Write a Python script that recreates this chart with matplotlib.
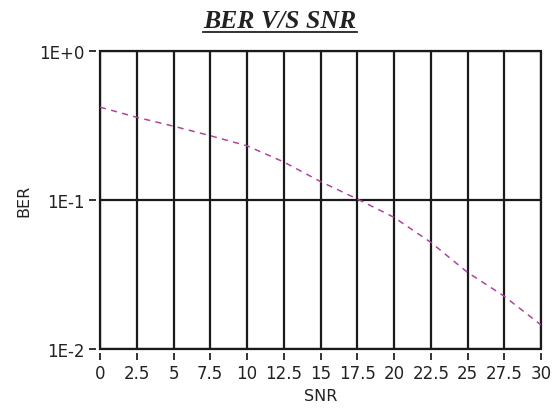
import matplotlib
matplotlib.use("Agg")
import matplotlib.pyplot as plt
from matplotlib.lines import Line2D

snr = [0, 2.5, 5, 7.5, 10, 12.5, 15, 17.5, 20, 22.5, 25, 27.5, 30]
ber = [0.42, 0.359, 0.313, 0.270, 0.231, 0.180, 0.133, 0.1016, 0.0765, 0.052, 0.0327, 0.0226, 0.0145]
xticks = [0, 2.5, 5, 7.5, 10, 12.5, 15, 17.5, 20, 22.5, 25, 27.5, 30]
xticklabels = ["0", "2.5", "5", "7.5", "10", "12.5", "15", "17.5", "20", "22.5", "25", "27.5", "30"]
yticks = [1e-2, 1e-1, 1e0]
yticklabels = ["1E-2", "1E-1", "1E+0"]

plt.rcParams['font.family'] = ['DejaVu Sans']
fig = plt.figure(figsize=(5.52, 4.10), dpi=100)
W, H = 552, 410
ax = fig.add_axes([100 / W, 1 - 350 / H, 441 / W, 298 / H])
ax.set_yscale('log')
ax.set_xlim(0, 30)
ax.set_ylim(1e-2, 1e0)
ax.plot(snr, ber, color='#b0449a', lw=1.1, ls=(0, (4, 3.5)))

ax.set_xticks(xticks)
ax.set_xticklabels(xticklabels)
ax.set_yticks(yticks)
ax.set_yticklabels(yticklabels)
ax.minorticks_off()
ax.grid(True, which='major', color='#1a1a1a', lw=1.6)
for s in ax.spines.values():
    s.set_visible(False)
ax.spines['left'].set_position(('outward', 3))
ax.spines['bottom'].set_position(('outward', 3))
ax.patch.set_edgecolor('#1a1a1a')
ax.patch.set_linewidth(1.6)
ax.tick_params(axis='both', direction='out', length=5, width=1.4, color='#333333',
               labelsize=12, labelcolor='#222222')
ax.tick_params(axis='y', pad=3)
ax.tick_params(axis='x', pad=3)
ax.set_xlabel('SNR', fontsize=11.5, color='#222222', labelpad=4)
ax.set_ylabel('BER', fontsize=11.5, color='#222222', labelpad=6)

t = fig.text(280 / W, 1 - 21 / H, 'BER V/S SNR', ha='center', va='center',
             family='Liberation Serif', weight='bold', style='italic', fontsize=18.5, color='#222222')
fig.canvas.draw()
bb = t.get_window_extent()
x0, x1 = bb.x0 / W, bb.x1 / W
yl = (bb.y0 - 0.5) / H
fig.add_artist(Line2D([x0, x1], [yl, yl], color='#222222', lw=1.3, transform=fig.transFigure))

fig.savefig('out.png', dpi=100)
